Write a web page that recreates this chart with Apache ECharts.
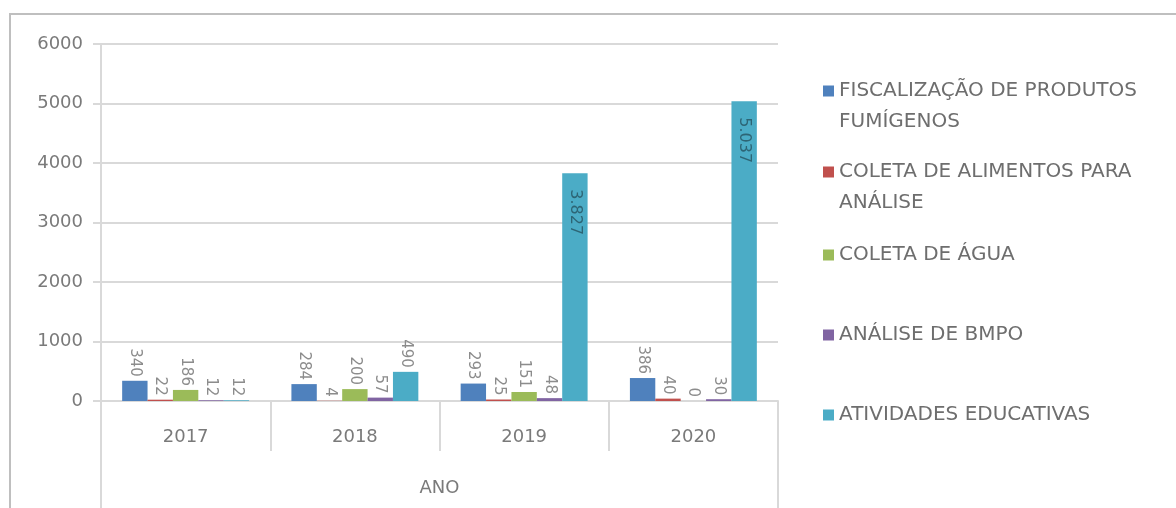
<!DOCTYPE html>
<html>
<head>
<meta charset="utf-8">
<script src="https://cdn.jsdelivr.net/npm/echarts@6/dist/echarts.min.js"></script>
<style>
  html, body { margin: 0; padding: 0; background: #fff; }
  #chart { position: absolute; left: 0; top: 0; width: 1176px; height: 508px; }
  #frame { position: absolute; left: 9px; top: 13px; width: 1200px; height: 600px;
           border-left: 2px solid #bfbfbf; border-top: 2px solid #bfbfbf; pointer-events: none; }
</style>
</head>
<body>
<div id="chart"></div>
<div id="frame"></div>
<script>
// dados
const anos = ['2017', '2018', '2019', '2020'];
const nomes = [
  'FISCALIZAÇÃO DE PRODUTOS\nFUMÍGENOS',
  'COLETA DE ALIMENTOS PARA\nANÁLISE',
  'COLETA DE ÁGUA',
  'ANÁLISE DE BMPO',
  'ATIVIDADES EDUCATIVAS'
];
const fiscalizacao = [340, 284, 293, 386];
const coletaAlimentos = [22, 4, 25, 40];
const coletaAgua = [186, 200, 151, 0];
const analiseBmpo = [12, 57, 48, 30];
const educativas = [12, 490, 3827, 5037];
const cores = ['#4F81BD', '#C0504D', '#9BBB59', '#8064A2', '#4BACC6'];

const valores = [fiscalizacao, coletaAlimentos, coletaAgua, analiseBmpo, educativas];
const fonte = 'DejaVu Sans';

// rotulo: grande fica dentro da barra, pequeno fica em cima
function rotulo (v) {
  return v > 1000
    ? { show: true, position: 'insideTop', rotate: -90, align: 'left', verticalAlign: 'middle',
        distance: 16, color: '#2d6575', fontFamily: fonte, fontSize: 16,
        formatter: (p) => p.value.toLocaleString('de-DE') }
    : { show: true, position: 'top', rotate: -90, align: 'right', verticalAlign: 'middle',
        distance: 4, color: '#8c8c8c', fontFamily: fonte, fontSize: 15 };
}

const series = nomes.map((nome, i) => ({
  name: nome,
  type: 'bar',
  barGap: 0,
  barCategoryGap: '25%',
  itemStyle: { color: cores[i] },
  data: valores[i].map(v => ({ value: v, label: rotulo(v) }))
}));

// uma legenda por item, para acertar as posicoes
// itens de duas linhas ganham uma linha vazia em cima, assim o quadrado fica na 1a linha
const centros = [86, 167, 250, 330, 410];
const legendas = nomes.map((nome, i) => {
  const duasLinhas = nome.indexOf('\n') >= 0;
  return {
    data: [nome],
    left: 818,
    top: duasLinhas ? centros[i] - 46.5 : centros[i] - 15.5,
    orient: 'vertical',
    itemWidth: 11,
    itemHeight: 11,
    itemGap: 0,
    itemTextGap: 11,
    icon: 'rect',
    formatter: (n) => (duasLinhas ? '\n' + n : n),
    textStyle: { color: '#6e6e6e', fontFamily: fonte, fontSize: 20, lineHeight: 31 }
  };
});

const myChart = echarts.init(document.getElementById('chart'));
myChart.setOption({
  animation: false,
  legend: legendas,
  grid: { left: 101, right: 398, top: 44, bottom: 107 },
  xAxis: [
    {
      type: 'category',
      data: anos,
      axisLine: { lineStyle: { color: '#d9d9d9', width: 2 } },
      axisTick: { show: true, length: 50, lineStyle: { color: '#d9d9d9', width: 2 } },
      axisLabel: { color: '#7a7a7a', fontFamily: fonte, fontSize: 18, margin: 27 }
    },
    {
      type: 'category',
      data: ['ANO'],
      position: 'bottom',
      axisLine: { show: false },
      axisTick: { show: true, length: 110, lineStyle: { color: '#d9d9d9', width: 2 } },
      axisLabel: { color: '#7a7a7a', fontFamily: fonte, fontSize: 18, margin: 78 },
      splitLine: { show: false }
    }
  ],
  yAxis: {
    type: 'value',
    min: 0,
    max: 6000,
    interval: 1000,
    axisLine: { show: true, lineStyle: { color: '#d9d9d9', width: 2 } },
    axisTick: { show: true, length: 8, lineStyle: { color: '#d9d9d9', width: 2 } },
    axisLabel: { color: '#7a7a7a', fontFamily: fonte, fontSize: 18, margin: 18,
                 formatter: (v) => String(v) },
    splitLine: { lineStyle: { color: '#d9d9d9', width: 2 } }
  },
  series: series
});
</script>
</body>
</html>
